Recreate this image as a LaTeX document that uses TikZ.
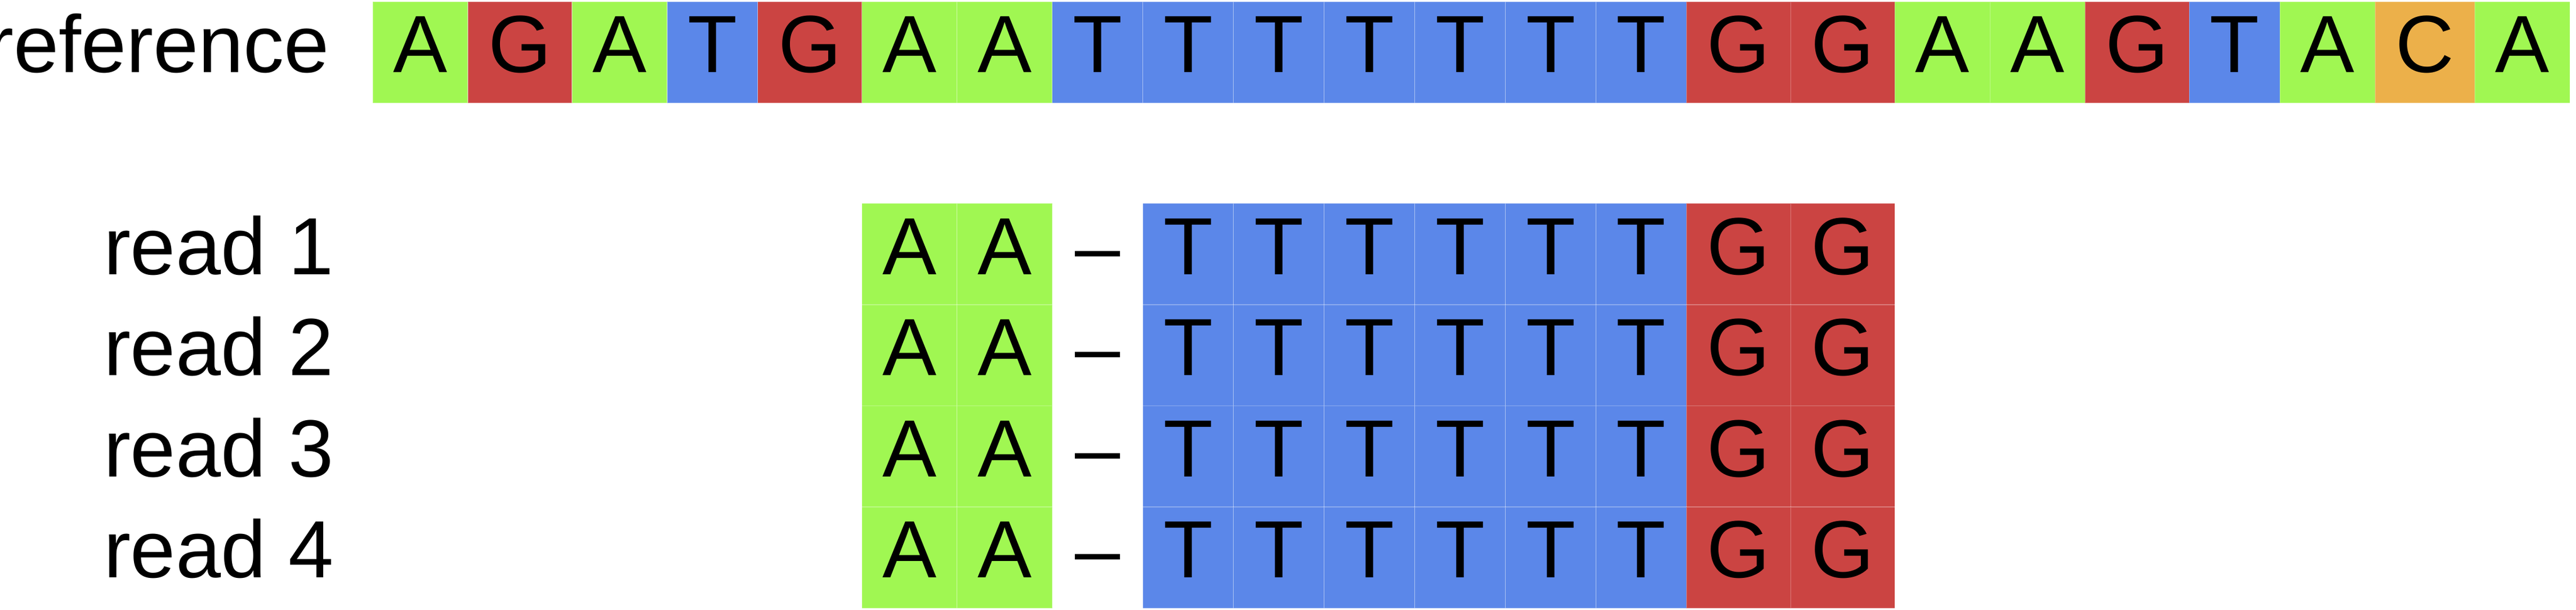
\documentclass[tikz,border=0pt]{standalone}
\usepackage{fontspec}
\setmainfont{Liberation Sans}
\usetikzlibrary{positioning}

\definecolor{colA}{HTML}{A0F752}
\definecolor{colC}{HTML}{ECB04A}
\definecolor{colG}{HTML}{CB4442}
\definecolor{colT}{HTML}{5B87E9}

\tikzset{
  base/.style={rectangle, inner xsep=0.3645cm, inner ysep=0pt, outer sep=0pt,
    minimum height=1.8cm, text height=1.03cm, text depth=0.31cm,
    font=\fontsize{41}{49}\selectfont},
  cell/.style={base, fill=#1, draw=white, draw opacity=0.3, line width=0.3pt},
  nucA/.style={cell=colA},
  nucC/.style={cell=colC},
  nucG/.style={cell=colG},
  nucT/.style={cell=colT},
  gap/.style={base},
  lab/.style={base, inner xsep=0pt}
}

\begin{document}
\begin{tikzpicture}
    \useasboundingbox (0,0) rectangle (45.75,10.83);
    % reference row
    \coordinate (r0) at (6.62,9.90);
    \foreach \b [count=\i, remember=\i as \j (initially 0)] in
      {A,G,A,T,G,A,A,T,T,T,T,T,T,T,G,G,A,A,G,T,A,C,A}
      \node [nuc\b, right=0pt of r\j] (r\i) {\b};
    \node [lab, left=0.77cm of r1] (reflabel) {reference};
    % reads
    \foreach \n in {1,...,4} {
      \coordinate (row\n) at (1.84,{6.315-1.795*(\n-1)});
      \node [lab, anchor=west] (read\n) at (row\n) {read \n};
      \foreach \p/\b in {6/A,7/A,9/T,10/T,11/T,12/T,13/T,14/T,15/G,16/G}
        \node [nuc\b] (c\n-\p) at (r\p |- row\n) {\b};
      \node [gap] (c\n-8) at (r8 |- row\n) {--};
    }
  \end{tikzpicture}
\end{document}
